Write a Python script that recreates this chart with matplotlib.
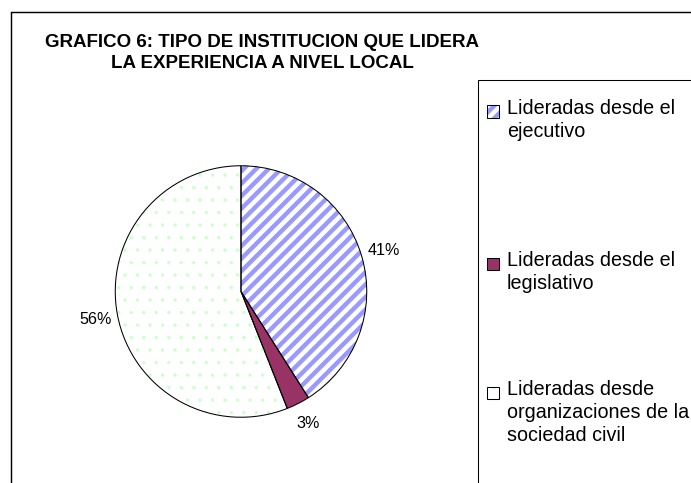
#!/usr/bin/env python3

import matplotlib
matplotlib.use("Agg")
import matplotlib.pyplot as plt
from matplotlib.patches import Rectangle, Wedge


TITLE = "GRAFICO 6: TIPO DE INSTITUCION QUE LIDERA\nLA EXPERIENCIA A NIVEL LOCAL"

LABELS = [
    "Lideradas desde el\nejecutivo",
    "Lideradas desde el\nlegislativo",
    "Lideradas desde\norganizaciones de la\nsociedad civil",
]
VALUES = [41, 3, 56]

FACE_COLORS = ["white", "#993366", "white"]
HATCHES = ["//", None, "."]
HATCH_COLORS = ["#9999FF", None, "#CCFFCC"]
HATCH_WIDTHS = [4.2, 0, 0.8]

DPI = 75
W, H = 691, 483

plt.rcParams["font.family"] = ["Liberation Sans", "DejaVu Sans"]


def px_box(left, top, width, height):
    return [left / W, 1 - (top + height) / H, width / W, height / H]


def main():
    fig = plt.figure(figsize=(W / DPI, H / DPI), dpi=DPI)

    # outer chart frame (runs off the right/bottom edge like the source)
    fig.patches.append(Rectangle((10.5 / W, -0.1), 1.2, 1 - 12.5 / H + 0.1,
                                 transform=fig.transFigure, fill=False,
                                 edgecolor="black", linewidth=1.4))
    # legend frame
    fig.patches.append(Rectangle((477.5 / W, -0.1), 1.2, 1 - 80.5 / H + 0.1,
                                 transform=fig.transFigure, fill=False,
                                 edgecolor="black", linewidth=1.0))

    fig.text(262 / W, 1 - 53 / H, TITLE, ha="center", va="center",
             fontsize=18, fontweight="bold", linespacing=1.3)

    r_px = 127
    ax = fig.add_axes(px_box(241 - r_px, 291.5 - r_px, 2 * r_px, 2 * r_px))
    wedges, _, autotexts = ax.pie(
        VALUES, colors=FACE_COLORS, startangle=90, counterclock=False,
        autopct="%1.0f%%", pctdistance=1.18,
        wedgeprops=dict(linewidth=0),
        textprops=dict(fontsize=15.5, color="black"),
    )

    for w, hatch, hcol, hw in zip(wedges, HATCHES, HATCH_COLORS, HATCH_WIDTHS):
        if hatch:
            with plt.rc_context({"hatch.linewidth": hw}):
                over = Wedge(w.center, w.r, w.theta1, w.theta2, facecolor="none",
                             edgecolor=hcol, hatch=hatch, linewidth=0)
            ax.add_patch(over)
        ax.add_patch(Wedge(w.center, w.r, w.theta1, w.theta2, facecolor="none",
                           edgecolor="black", linewidth=1.0))

    ax.set_xlim(-1.01, 1.01)
    ax.set_ylim(-1.01, 1.01)
    ax.axis("off")

    # legend entries: first-line centre of each block, in pixels from the top
    entry_y = [111, 263, 392]
    for y_mid, label, face, hatch, hcol, hw in zip(
            entry_y, LABELS, FACE_COLORS, HATCHES, HATCH_COLORS, HATCH_WIDTHS):
        box = (486.5 / W, 1 - (y_mid + 6.5) / H)
        size = (12 / W, 12 / H)
        fig.patches.append(Rectangle(box, *size, transform=fig.transFigure,
                                     facecolor=face, edgecolor="none"))
        if hatch:
            with plt.rc_context({"hatch.linewidth": hw}):
                fig.patches.append(Rectangle(box, *size, transform=fig.transFigure,
                                             facecolor="none", edgecolor=hcol,
                                             hatch=hatch, linewidth=0))
        fig.patches.append(Rectangle(box, *size, transform=fig.transFigure,
                                     facecolor="none", edgecolor="black",
                                     linewidth=1.0))
        fig.text(507 / W, 1 - (y_mid - 12) / H, label, ha="left", va="top",
                 fontsize=19, linespacing=1.28)

    fig.savefig("out.png", dpi=DPI)
    plt.close(fig)


if __name__ == "__main__":
    main()
